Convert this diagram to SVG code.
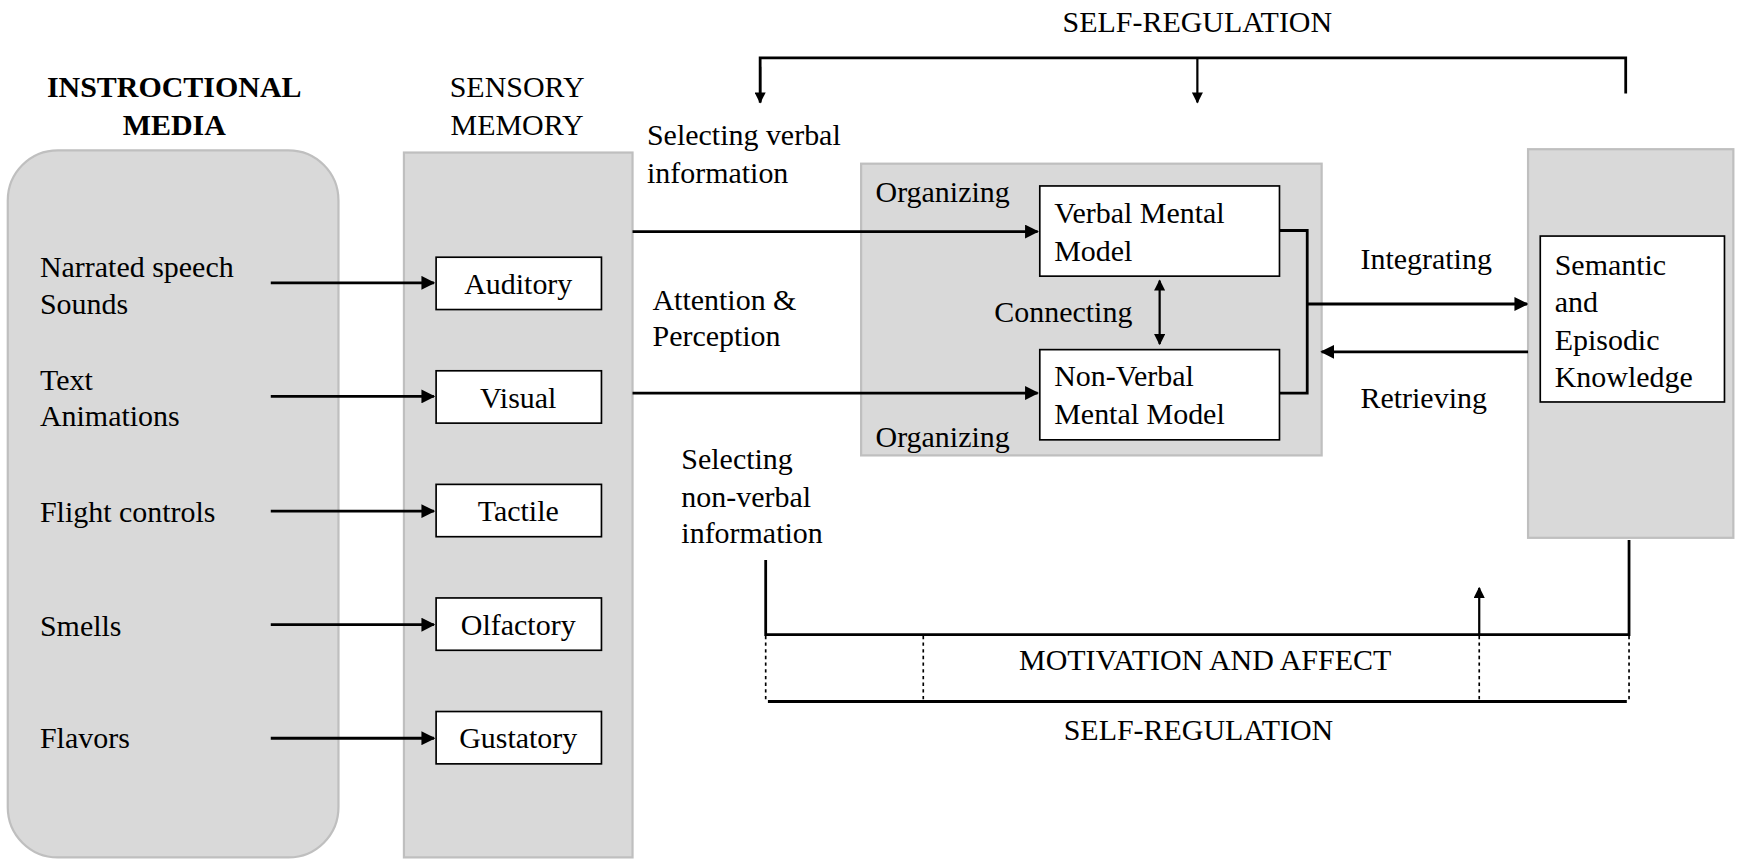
<svg xmlns="http://www.w3.org/2000/svg" width="1740" height="863" viewBox="0 0 1740 863">
<defs>
<style>
text{font-family:"Liberation Serif","Times New Roman",serif;font-size:27px;fill:#000}
.c{text-anchor:middle}
.b{font-weight:bold}
.gray{fill:#d9d9d9;stroke:#bfbfbf;stroke-width:2}
.box{fill:#fff;stroke:#000;stroke-width:1.5}
.ln{fill:none;stroke:#000;stroke-width:2.5}
.dot{fill:none;stroke:#000;stroke-width:1.5;stroke-dasharray:3,3}
</style>
<marker id="ah" viewBox="0 0 10 10" refX="9" refY="5" markerWidth="5" markerHeight="5" orient="auto-start-reverse"><path d="M0,0L10,5L0,10z" fill="#000"/></marker>
</defs>
<rect width="1740" height="863" fill="#fff"/>
<g transform="scale(1.1097,1.1135)">
<g id="media">
<rect class="gray" x="7" y="135" width="298" height="635" rx="45"/>
<text class="c b" x="157" y="87">INSTROCTIONAL</text>
<text class="c b" x="157" y="121">MEDIA</text>
<text x="36" y="249">Narrated speech</text><text x="36" y="282">Sounds</text>
<text x="36" y="350">Text</text><text x="36" y="383">Animations</text>
<text x="36" y="469">Flight controls</text>
<text x="36" y="571">Smells</text>
<text x="36" y="672">Flavors</text>
</g>
<g id="sensory">
<rect class="gray" x="364" y="137" width="206" height="633"/>
<text class="c" x="466" y="87">SENSORY</text>
<text class="c" x="466" y="121">MEMORY</text>
<rect class="box" x="393" y="231" width="149" height="47"/><text class="c" x="467" y="264">Auditory</text>
<rect class="box" x="393" y="333" width="149" height="47"/><text class="c" x="467" y="366">Visual</text>
<rect class="box" x="393" y="435" width="149" height="47"/><text class="c" x="467" y="468">Tactile</text>
<rect class="box" x="393" y="537" width="149" height="47"/><text class="c" x="467" y="570">Olfactory</text>
<rect class="box" x="393" y="639" width="149" height="47"/><text class="c" x="467" y="672">Gustatory</text>
</g>
<g id="working">
<rect class="gray" x="776" y="147" width="415" height="262"/>
<text x="789" y="181">Organizing</text>
<text x="789" y="401">Organizing</text>
<rect class="box" x="937" y="167" width="216" height="81"/>
<text x="950" y="200">Verbal Mental</text><text x="950" y="234">Model</text>
<rect class="box" x="937" y="314" width="216" height="81"/>
<text x="950" y="347">Non-Verbal</text><text x="950" y="381">Mental Model</text>
<text x="896" y="289">Connecting</text>
</g>
<g id="ltm">
<rect class="gray" x="1377" y="134" width="185" height="349"/>
<rect class="box" x="1388" y="212" width="166" height="149"/>
<text x="1401" y="247">Semantic</text><text x="1401" y="280">and</text>
<text x="1401" y="314">Episodic</text><text x="1401" y="348">Knowledge</text>
</g>
<g id="labels">
<text class="c" x="1079" y="29">SELF-REGULATION</text>
<text x="583" y="130">Selecting verbal</text><text x="583" y="164">information</text>
<text x="588" y="278">Attention &amp;</text><text x="588" y="311">Perception</text>
<text x="614" y="421">Selecting</text><text x="614" y="455">non-verbal</text><text x="614" y="488">information</text>
<text x="1226" y="242">Integrating</text>
<text x="1226" y="366">Retrieving</text>
<text class="c" x="1086" y="602">MOTIVATION AND AFFECT</text>
<text class="c" x="1080" y="665">SELF-REGULATION</text>
</g>
<g id="connectors">
<line class="ln" x1="244" y1="254" x2="391" y2="254" marker-end="url(#ah)"/>
<line class="ln" x1="244" y1="356" x2="391" y2="356" marker-end="url(#ah)"/>
<line class="ln" x1="244" y1="459" x2="391" y2="459" marker-end="url(#ah)"/>
<line class="ln" x1="244" y1="561" x2="391" y2="561" marker-end="url(#ah)"/>
<line class="ln" x1="244" y1="663" x2="391" y2="663" marker-end="url(#ah)"/>
<line class="ln" x1="570" y1="208" x2="935" y2="208" marker-end="url(#ah)"/>
<line class="ln" x1="570" y1="353" x2="935" y2="353" marker-end="url(#ah)"/>
<line class="ln" x1="1045" y1="252" x2="1045" y2="309" marker-start="url(#ah)" marker-end="url(#ah)" style="stroke-width:2"/>
<polyline class="ln" points="1153,207 1178,207 1178,353 1153,353"/>
<line class="ln" x1="1178" y1="273" x2="1376" y2="273" marker-end="url(#ah)"/>
<line class="ln" x1="1377" y1="316" x2="1191" y2="316" marker-end="url(#ah)"/>
<polyline class="ln" points="685,92 685,52 1465,52 1465,84"/>
<line class="ln" x1="685" y1="60" x2="685" y2="92" marker-end="url(#ah)" style="stroke-width:2"/>
<line class="ln" x1="1079" y1="52" x2="1079" y2="92" marker-end="url(#ah)" style="stroke-width:2"/>
<polyline class="ln" points="690,503 690,570 1468,570 1468,485"/>
<line class="ln" x1="1333" y1="570" x2="1333" y2="528" marker-end="url(#ah)" style="stroke-width:2"/>
<line class="dot" x1="690" y1="571" x2="690" y2="629"/>
<line class="dot" x1="832" y1="571" x2="832" y2="629"/>
<line class="dot" x1="1333" y1="571" x2="1333" y2="629"/>
<line class="dot" x1="1468" y1="571" x2="1468" y2="629"/>
<line class="ln" x1="692" y1="630" x2="1466" y2="630"/>
</g>
</g>
</svg>
